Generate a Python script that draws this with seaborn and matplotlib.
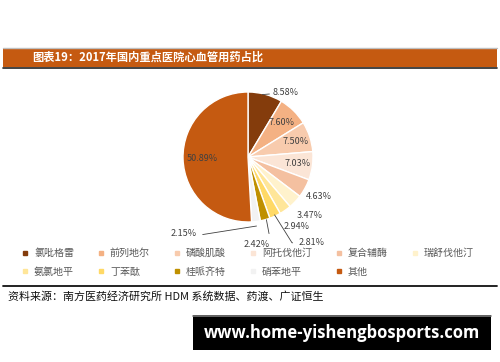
import numpy as np
import matplotlib
matplotlib.use("Agg")
import matplotlib.pyplot as plt
from matplotlib.patches import Rectangle
from matplotlib.lines import Line2D
import seaborn as sns

categories = ["氯吡格雷", "前列地尔", "磷酸肌酸", "阿托伐他汀", "复合辅酶", "瑞舒伐他汀",
              "氨氯地平", "丁苯酞", "桂哌齐特", "硝苯地平", "其他"]
values = [8.58, 7.60, 7.50, 7.03, 4.63, 3.47, 2.94, 2.81, 2.42, 2.15, 50.89]
colors = ["#843C0C", "#F4B183", "#F8CBAD", "#FBE5D6", "#F4C0A0", "#FFF2CC",
          "#FFE699", "#FFD966", "#BF9000", "#F2F2F2", "#C55A11"]
title = "图表19：2017年国内重点医院心血管用药占比"
source = "资料来源：南方医药经济研究所 HDM 系统数据、药渡、广证恒生"
watermark = "www.home-yishengbosports.com"

sns.set_theme(style="white")
plt.rcParams['font.family'] = ['Noto Sans CJK SC', 'DejaVu Sans']
palette = sns.color_palette(colors)

W, H = 500, 362
fig = plt.figure(figsize=(5, 3.62), dpi=100)
fig.patch.set_facecolor("white")

def px(x, y):
    return x / W, 1 - y / H

# title band
fig.patches.append(Rectangle(px(3, 67), 494 / W, 19 / H, transform=fig.transFigure,
                             facecolor="#C55A11", edgecolor="none", zorder=1))
fig.add_artist(Line2D([3 / W, 497 / W], [1 - 47.5 / H] * 2, color="#BFBFBF", lw=1.0))
fig.add_artist(Line2D([3 / W, 497 / W], [1 - 67.5 / H] * 2, color="#222222", lw=1.2))
fig.text(*px(32, 57.5), title, color="white", fontsize=8.1, fontweight="bold",
         ha="left", va="center")

# pie
cx, cy, r = 248, 157, 65
ax = fig.add_axes([(cx - r) / W, 1 - (cy + r) / H, 2 * r / W, 2 * r / H])
wedges, _ = ax.pie(values, colors=palette, startangle=90, counterclock=False,
                   radius=1, wedgeprops=dict(edgecolor="white", linewidth=1.0))
ax.set_xlim(-1, 1)
ax.set_ylim(-1, 1)
ax.set_aspect("auto")
ax.axis("off")

lab_color = "#404040"
lc = "#404040"
fs = 6.5
inside = {1: 0.74, 2: 0.77, 3: 0.77, 10: 0.70}
outside_r = {4: 1.25, 5: 1.30, 6: 1.30}
for i, (w, v) in enumerate(zip(wedges, values)):
    ang = np.deg2rad((w.theta1 + w.theta2) / 2)
    ux, uy = np.cos(ang), np.sin(ang)
    txt = f"{v:.2f}%"
    if i in inside:
        k = inside[i]
        ax.text(k * ux, k * uy, txt, ha="center", va="center", fontsize=fs, color=lab_color)
    elif i in outside_r:
        k = outside_r[i]
        ax.text(k * ux, k * uy, txt, ha="center", va="center", fontsize=fs, color=lab_color)
    elif i == 0:
        ax.annotate(txt, xy=(0.22, 0.96), xytext=(0.38, 0.99),
                    ha="left", va="center", fontsize=fs, color=lab_color,
                    annotation_clip=False,
                    arrowprops=dict(arrowstyle="-", color=lc, lw=0.6,
                                    shrinkA=0, shrinkB=0))
    elif i == 7:
        ax.annotate(txt, xy=(ux * 0.98, uy * 0.98), xytext=(0.78, -1.32),
                    ha="left", va="center", fontsize=fs, color=lab_color,
                    annotation_clip=False,
                    arrowprops=dict(arrowstyle="-", color=lc, lw=0.6, shrinkB=0,
                                    connectionstyle="angle,angleA=0,angleB=-58,rad=0"))
    elif i == 8:
        ax.annotate(txt, xy=(ux * 1.0 + 0.02, uy * 1.0), xytext=(0.14, -1.34),
                    ha="center", va="center", fontsize=fs, color=lab_color,
                    annotation_clip=False,
                    arrowprops=dict(arrowstyle="-", color=lc, lw=0.6, shrinkB=0,
                                    relpos=(1.0, 1.0)))
    elif i == 9:
        ax.annotate(txt, xy=(ux * 1.07, uy * 1.07), xytext=(-0.79, -1.18),
                    ha="right", va="center", fontsize=fs, color=lab_color,
                    annotation_clip=False,
                    arrowprops=dict(arrowstyle="-", color=lc, lw=0.6, shrinkB=0,
                                    relpos=(1.0, 0.3)))

# legend (row-major order for 2 rows x 6 cols)
order = [0, 6, 1, 7, 2, 8, 3, 9, 4, 10, 5]
handles = [Line2D([], [], marker="s", ls="none", markersize=3.5, color=colors[j],
                  markeredgecolor=colors[j]) for j in order]
labels = [categories[j] for j in order]
leg = fig.legend(handles, labels, ncol=6, loc="upper left",
                 bbox_to_anchor=px(22, 248), frameon=False, fontsize=7.2,
                 handlelength=0.6, handletextpad=0.6, columnspacing=2.4,
                 labelspacing=0.85, borderaxespad=0, borderpad=0)
for t in leg.get_texts():
    t.set_color("#595959")

# source
fig.add_artist(Line2D([3 / W, 497 / W], [1 - 285.5 / H] * 2, color="#111111", lw=1.3))
fig.text(*px(8, 296), source, fontsize=7.9, color="#111111", ha="left", va="center")

# watermark
fig.patches.append(Rectangle(px(193, 350), 298 / W, 35 / H, transform=fig.transFigure,
                             facecolor="black", edgecolor="none", zorder=1))
fig.add_artist(Line2D([193 / W, 491 / W], [1 - 315.5 / H] * 2, color="#777777", lw=1.2))
fig.text(*px(342, 333), watermark, fontsize=12, color="white", fontweight="bold",
         ha="center", va="center", family=["Open Sans", "DejaVu Sans"])

fig.savefig("out.png", dpi=100)
